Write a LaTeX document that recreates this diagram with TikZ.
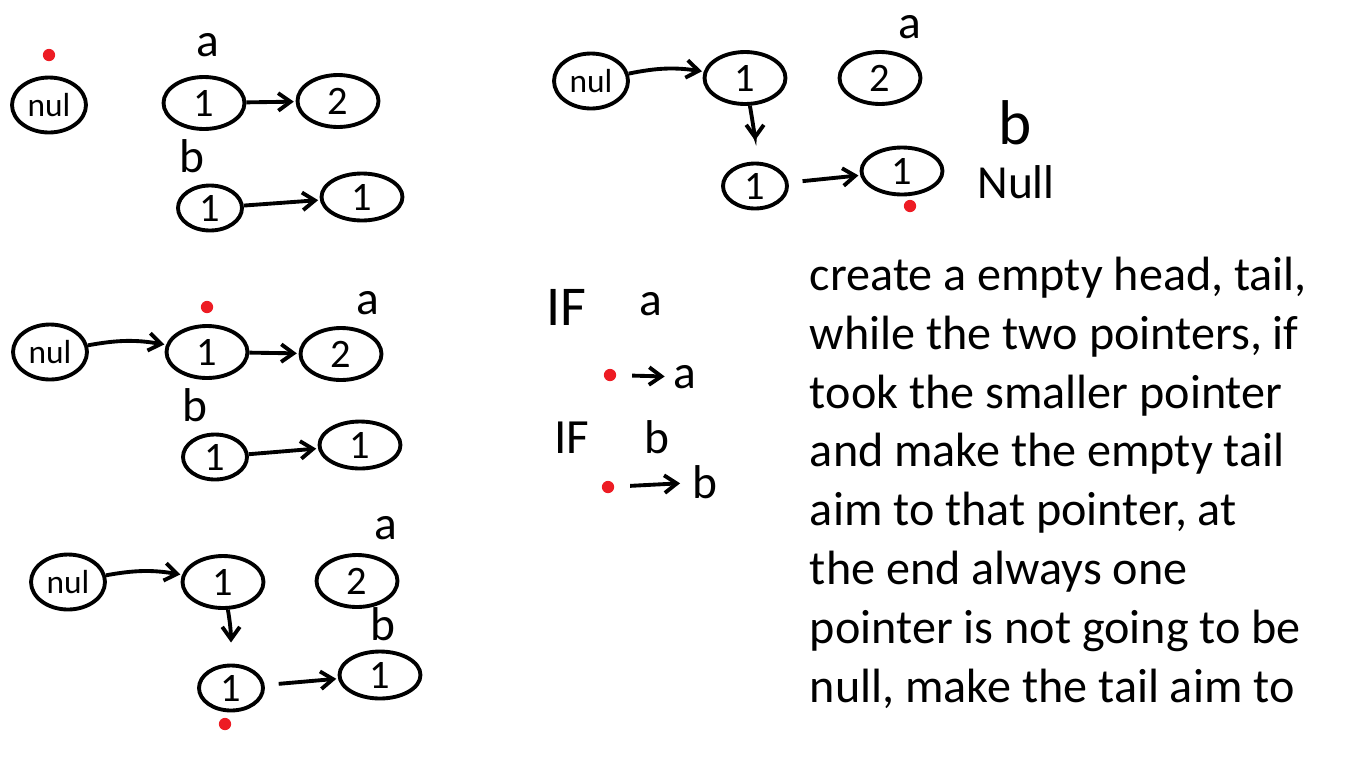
\documentclass[tikz,border=0pt]{standalone}
\usepackage{fontspec}
\setmainfont{Carlito}
\usetikzlibrary{shapes.geometric,arrows.meta}
\definecolor{paintred}{RGB}{237,28,36}

\begin{document}
\begin{tikzpicture}[x=0.02cm, y=-0.02cm, >={Straight Barb[length=7pt,width=10pt]}, line width=2.2pt,
  listnode/.style={draw, ellipse, minimum width=1.62cm, minimum height=1.04cm, inner sep=0pt, font=\fontsize{23}{25}\selectfont},
  smallnode/.style={listnode, minimum width=1.28cm, minimum height=0.9cm},
  lownode/.style={listnode, minimum height=0.94cm},
  nullnode/.style={listnode, minimum width=1.48cm, minimum height=1.1cm, font=\fontsize{19}{21}\selectfont},
  ptr/.style={font=\fontsize{27}{29}\selectfont, inner sep=0pt},
  tail/.style={circle, fill=paintred, draw=none, inner sep=0pt, minimum size=7pt},
  link/.style={->, shorten >=1pt}]
  \useasboundingbox (0,0) rectangle (1354,758);
  % ---------------------------------------------------------------- start
  \node[tail] (t1) at (49,55) {};
  \node[nullnode] (h1) at (49,105) {nul};
  \node[listnode] (a1) at (204,103) {1};
  \node[listnode] (a2) at (338,101) {2};
  \node[ptr] (pa1) at (208,45) {a};
  \node[ptr] (pb1) at (192,156) {b};
  \node[smallnode] (b1) at (210,208) {1};
  \node[lownode] (b2) at (362,197) {1};
  \draw[link] (a1) -- (a2);
  \draw[link] (b1) -- (b2);
  % ---------------------------------------------------------------- first step
  \node[tail] (t3) at (207,307) {};
  \node[nullnode] (h3) at (50,352) {nul};
  \node[listnode] (e1) at (207,352) {1};
  \node[listnode] (e2) at (341,354) {2};
  \node[ptr] (pa3) at (368,303) {a};
  \node[ptr] (pb3) at (195,405) {b};
  \node[smallnode] (f1) at (215,457) {1};
  \node[lownode] (f2) at (360,445) {1};
  \draw[link] (h3) to[bend left=10] (e1);
  \draw[link] (e1) -- (e2);
  \draw[link] (f1) -- (f2);
  % ---------------------------------------------------------------- second step
  \node[nullnode] (h4) at (68,582) {nul};
  \node[listnode] (g1) at (223,582) {1};
  \node[listnode] (g2) at (357,581) {2};
  \node[ptr] (pa4) at (386,528) {a};
  \node[ptr] (pb4) at (383,624) {b};
  \node[smallnode] (k1) at (231,688) {1};
  \node[lownode] (k2) at (380,675) {1};
  \node[tail] (t4) at (225,724) {};
  \draw[link] (h4) to[bend left=10] (g1);
  \draw[link, shorten >=12pt] (g1) to[out=-80, in=90] (k1);
  \draw[link, shorten <=8pt] (k1) -- (k2);
  % ---------------------------------------------------------------- end, b is null
  \node[nullnode] (h2) at (591,81) {nul};
  \node[listnode] (c1) at (745,78) {1};
  \node[listnode] (c2) at (880,78) {2};
  \node[ptr] (pa2) at (910,27) {a};
  \node[smallnode] (d1) at (755,186) {1};
  \node[lownode] (d2) at (902,171) {1};
  \node[tail] (t2) at (910,206) {};
  \node[ptr, font=\fontsize{36}{38}\selectfont] (pb2) at (1015,123) {b};
  \node[ptr] (nb2) at (1016,182) {Null};
  \draw[link] (h2) to[bend left=10] (c1);
  \draw[link, shorten >=12pt] (c1) to[out=-80, in=90] (d1);
  \draw[link, shorten <=8pt] (d1) -- (d2);
  % ---------------------------------------------------------------- rule
  \node[ptr, font=\fontsize{32}{34}\selectfont] (if1) at (566,307) {IF};
  \node[ptr] (ca) at (651,304) {a};
  \node[tail] (da) at (610,375) {};
  \node[ptr] (ra) at (685,377) {a};
  \draw[link, shorten <=8pt, shorten >=4pt] (da) -- (ra);
  \node[ptr, font=\fontsize{28}{30}\selectfont] (if2) at (572,438) {IF};
  \node[ptr] (cb) at (657,437) {b};
  \node[tail] (db) at (608,487) {};
  \node[ptr] (rb) at (705,482) {b};
  \draw[link, shorten <=8pt, shorten >=6pt] (db) -- (rb);
  % ---------------------------------------------------------------- note
  \node[anchor=north west, align=left, inner sep=0pt, font=\fontsize{27.4}{33.5}\selectfont] (note) at (808,255)
    {create a empty head, tail,\\ while the two pointers, if\\ took the smaller pointer\\ and make the empty tail\\
     aim to that pointer, at\\ the end always one\\ pointer is not going to be\\ null, make the tail aim to};
\end{tikzpicture}
\end{document}
